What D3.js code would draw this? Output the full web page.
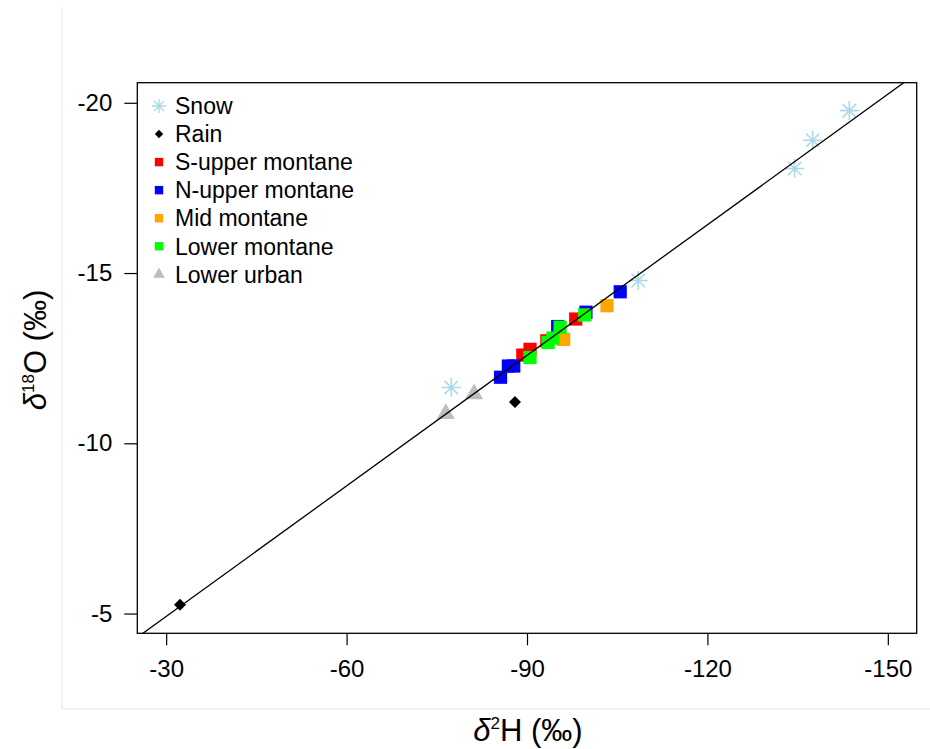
<!DOCTYPE html>
<html>
<head>
<meta charset="utf-8">
<script src="https://cdn.jsdelivr.net/npm/d3@7"></script>
<style>
  html, body { margin: 0; padding: 0; background: #ffffff; }
  svg { display: block; font-family: "Liberation Sans", Arial, Helvetica, sans-serif; }
</style>
</head>
<body>
<svg id="chart" width="930" height="749"></svg>
<script>
// ---------------- data (δ2H, δ18O) ----------------
const snowH   = [-77.4, -108.5, -134.5, -137.5, -143.6];
const snowO   = [-11.64, -14.78, -18.07, -18.90, -19.77];

const rainH   = [-32.3, -88.0];
const rainO   = [-5.26, -11.21];

const sUpperH = [-89.3, -90.5, -93.3, -98.1];
const sUpperO = [-12.59, -12.76, -13.01, -13.65];

const nUpperH = [-85.6, -86.9, -87.8, -95.1, -99.8, -105.5];
const nUpperO = [-11.94, -12.27, -12.27, -13.43, -13.85, -14.45];

const midH    = [-96.1, -103.3];
const midO    = [-13.05, -14.04];

const lowerH  = [-90.5, -93.5, -94.3, -95.5, -99.6];
const lowerO  = [-12.52, -12.96, -13.09, -13.41, -13.77];

const urbanH  = [-76.5, -81.2];
const urbanO  = [-10.87, -11.45];

// regression line: δ2H = slope * δ18O + intercept
const lineSlope = 7.824;
const lineIntercept = 8.45;

const xTicks = [-30, -60, -90, -120, -150];
const yTicks = [-20, -15, -10, -5];

const legendLabels = ["Snow", "Rain", "S-upper montane", "N-upper montane", "Mid montane", "Lower montane", "Lower urban"];

// ---------------- layout ----------------
const svg = d3.select("#chart");
const L = 137.3, R = 916.7, T = 82.7, B = 633.3;

const x = d3.scaleLinear().domain([-25.2, -154.8]).range([L, R]);
const y = d3.scaleLinear().domain([-4.42, -20.59]).range([B, T]);

// faint outer frame lines
svg.append("line").attr("x1", 62).attr("x2", 62).attr("y1", 7).attr("y2", 709)
  .attr("stroke", "#e4e4e4").attr("stroke-width", 1);
svg.append("line").attr("x1", 62).attr("x2", 930).attr("y1", 709).attr("y2", 709)
  .attr("stroke", "#e4e4e4").attr("stroke-width", 1);

// axes
const fmt = d => String(d);
const xAxis = svg.append("g").attr("transform", `translate(0,${B})`)
  .call(d3.axisBottom(x).tickValues(xTicks).tickSize(12).tickPadding(15).tickFormat(fmt));
const yAxis = svg.append("g").attr("transform", `translate(${L},0)`)
  .call(d3.axisLeft(y).tickValues(yTicks).tickSize(13).tickPadding(12).tickFormat(fmt));
[xAxis, yAxis].forEach(g => {
  g.select(".domain").remove();
  g.selectAll(".tick line").attr("stroke", "#000").attr("stroke-width", 1.2);
  g.selectAll(".tick text").attr("fill", "#000").style("font-size", "24px")
    .style("font-family", "'Liberation Sans', Arial, Helvetica, sans-serif");
});

// clip
svg.append("clipPath").attr("id", "plotclip").append("rect")
  .attr("x", L).attr("y", T).attr("width", R - L).attr("height", B - T);
const plot = svg.append("g").attr("clip-path", "url(#plotclip)");

// symbol generators
const asterisk = r => {
  const k = r * Math.SQRT1_2;
  return `M${-r},0L${r},0M0,${-r}L0,${r}M${-k},${-k}L${k},${k}M${-k},${k}L${k},${-k}`;
};
const diamond = s => `M0,${-s}L${s},0L0,${s}L${-s},0Z`;
const square = h => `M${-h},${-h}L${h},${-h}L${h},${h}L${-h},${h}Z`;
const triangle = s => {
  const r = 1.5551 * s, xc = 1.3468 * s, yc = 0.7776 * s;
  return `M0,${-r}L${xc},${yc}L${-xc},${yc}Z`;
};

function drawSeries(H, O, path, fill, stroke, sw) {
  plot.append("g").selectAll("path").data(d3.zip(H, O)).join("path")
    .attr("transform", d => `translate(${x(d[0])},${y(d[1])})`)
    .attr("d", path)
    .attr("fill", fill)
    .attr("stroke", stroke)
    .attr("stroke-width", sw);
}

const cSnow = "#ADD8E6", cRain = "#000000", cS = "#FF0000", cN = "#0000FF",
      cMid = "#FFA500", cLow = "#00FF00", cUrb = "#BEBEBE";

drawSeries(snowH, snowO, asterisk(9.5), "none", cSnow, 1.6);
drawSeries(rainH, rainO, diamond(6), cRain, "none", 0);
drawSeries(sUpperH, sUpperO, square(6.6), cS, "none", 0);
drawSeries(nUpperH, nUpperO, square(6.6), cN, "none", 0);
drawSeries(midH, midO, square(6.6), cMid, "none", 0);
drawSeries(lowerH, lowerO, square(6.6), cLow, "none", 0);
drawSeries(urbanH, urbanO, triangle(6.7), cUrb, "none", 0);

// regression line
const oDom = y.domain();
const lineO = [oDom[0] + 1, oDom[1] - 1];
plot.append("line")
  .attr("x1", x(lineSlope * lineO[0] + lineIntercept)).attr("y1", y(lineO[0]))
  .attr("x2", x(lineSlope * lineO[1] + lineIntercept)).attr("y2", y(lineO[1]))
  .attr("stroke", "#000").attr("stroke-width", 1.3);

// box
svg.append("rect").attr("x", L).attr("y", T).attr("width", R - L).attr("height", B - T)
  .attr("fill", "none").attr("stroke", "#000").attr("stroke-width", 1.3);

// legend
const legSyms = [
  {d: asterisk(7), fill: "none", stroke: cSnow, sw: 1.4},
  {d: diamond(4.2), fill: cRain, stroke: "none", sw: 0},
  {d: square(4.2), fill: cS, stroke: "none", sw: 0},
  {d: square(4.2), fill: cN, stroke: "none", sw: 0},
  {d: square(4.2), fill: cMid, stroke: "none", sw: 0},
  {d: square(4.2), fill: cLow, stroke: "none", sw: 0},
  {d: triangle(4.3), fill: cUrb, stroke: "none", sw: 0}
];
const leg = svg.append("g");
legendLabels.forEach((lab, i) => {
  const yy = 106 + i * 28.05;
  const s = legSyms[i];
  leg.append("path").attr("transform", `translate(159,${yy})`).attr("d", s.d)
    .attr("fill", s.fill).attr("stroke", s.stroke).attr("stroke-width", s.sw);
  leg.append("text").attr("x", 175).attr("y", yy).attr("dy", "0.36em")
    .style("font-size", "23px").attr("fill", "#000").text(lab);
});

// axis titles
const xt = svg.append("text").attr("x", 528).attr("y", 741).attr("text-anchor", "middle")
  .style("font-size", "31px").attr("fill", "#000");
xt.append("tspan").style("font-style", "italic").text("δ");
xt.append("tspan").attr("dy", -12).style("font-size", "17px").text("2");
xt.append("tspan").attr("dy", 12).text("H (‰)");

const yt = svg.append("text").attr("transform", "translate(46,350) rotate(-90)")
  .attr("text-anchor", "middle").style("font-size", "31px").attr("fill", "#000");
yt.append("tspan").style("font-style", "italic").text("δ");
yt.append("tspan").attr("dy", -12).style("font-size", "17px").text("18");
yt.append("tspan").attr("dy", 12).text("O (‰)");
</script>
</body>
</html>
